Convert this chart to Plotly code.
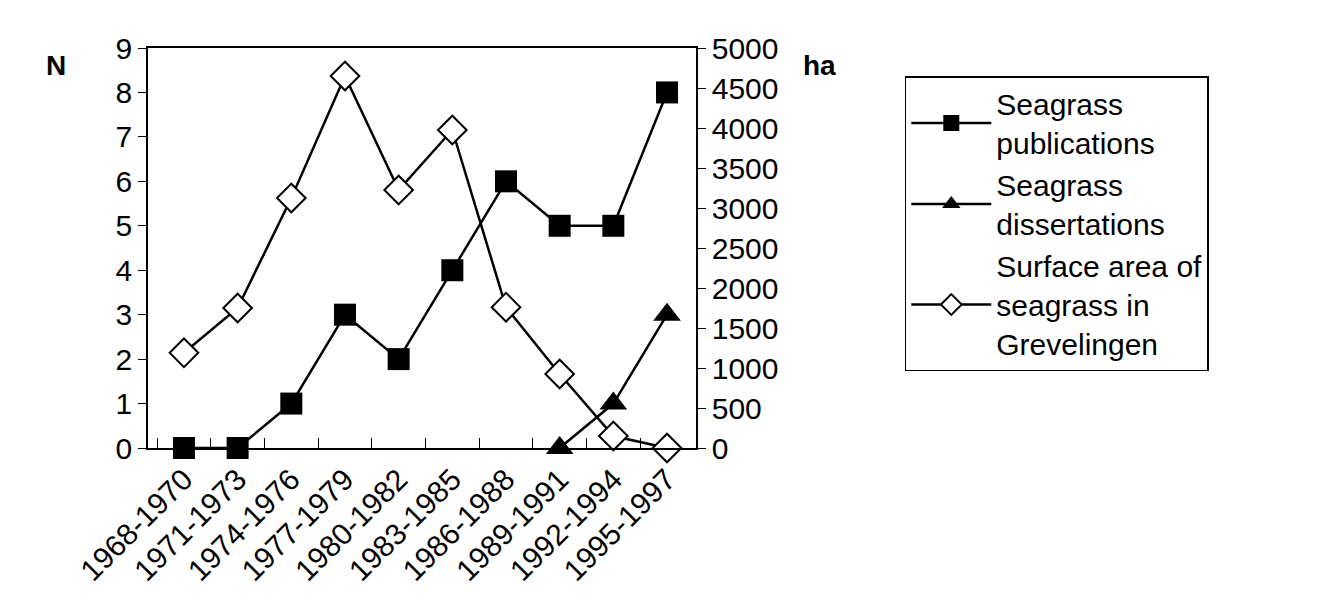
import plotly.graph_objects as go

categories = ["1968-1970","1971-1973","1974-1976","1977-1979","1980-1982",
              "1983-1985","1986-1988","1989-1991","1992-1994","1995-1997"]
publications = [0, 0, 1, 3, 2, 4, 6, 5, 5, 8]
dissertations = [None, None, None, None, None, None, None, 0, 1, 3]
surface_ha = [1190, 1750, 3125, 4650, 3225, 3975, 1760, 925, 150, 0]

idx = list(range(len(categories)))
fnt = dict(family="Liberation Sans, Arial", size=30, color="black")

fig = go.Figure()
fig.add_trace(go.Scatter(x=idx, y=publications, name="Seagrass<br>publications",
    mode="lines+markers", line=dict(color="black", width=2.5),
    marker=dict(symbol="square", size=22, color="black"), cliponaxis=False))
fig.add_trace(go.Scatter(x=idx, y=dissertations, name="Seagrass<br>dissertations",
    mode="lines+markers", line=dict(color="black", width=2.5),
    marker=dict(symbol="triangle-up", size=24, color="black"), cliponaxis=False))
fig.add_trace(go.Scatter(x=idx, y=surface_ha, name="Surface area of<br>seagrass in<br>Grevelingen",
    yaxis="y2", mode="lines+markers", line=dict(color="black", width=2.5),
    marker=dict(symbol="diamond", size=22, color="white", line=dict(color="black", width=2)),
    cliponaxis=False))

fig.update_layout(
    width=1322, height=600, paper_bgcolor="white", plot_bgcolor="white",
    margin=dict(l=140, r=634, t=40, b=160), font=fnt,
    xaxis=dict(range=[-0.67, 9.54], tickvals=idx, ticktext=categories, tickangle=-45,
               showline=True, linecolor="black", linewidth=1.5, mirror=True,
               ticks="", showgrid=False, zeroline=False, automargin=False,
               minor=dict(tickvals=[i + 0.5 for i in idx[:-1]] + [-0.5], ticks="inside",
                          ticklen=10, tickcolor="black")),
    yaxis=dict(range=[0, 9], dtick=1, showline=True, linecolor="black", linewidth=1.5,
               ticks="outside", ticklen=8, tickcolor="black", showgrid=False,
               zeroline=False, automargin=False),
    yaxis2=dict(range=[0, 5000], dtick=500, overlaying="y", side="right", showline=True,
                linecolor="black", linewidth=1.5, ticks="outside", ticklen=8,
                tickcolor="black", showgrid=False, zeroline=False, automargin=False),
    legend=dict(x=1.381, y=0.93, xanchor="left", yanchor="top", bordercolor="black",
                borderwidth=1.5, font=fnt, tracegroupgap=28, itemwidth=80),
    annotations=[
        dict(text="<b>N</b>", xref="paper", yref="paper", x=-0.19, y=1.0, showarrow=False,
             font=dict(family="Liberation Sans, Arial", size=28, color="black")),
        dict(text="<b>ha</b>", xref="paper", yref="paper", x=1.26, y=1.0, showarrow=False,
             font=dict(family="Liberation Sans, Arial", size=28, color="black")),
    ],
)
fig.write_html("out.html")
